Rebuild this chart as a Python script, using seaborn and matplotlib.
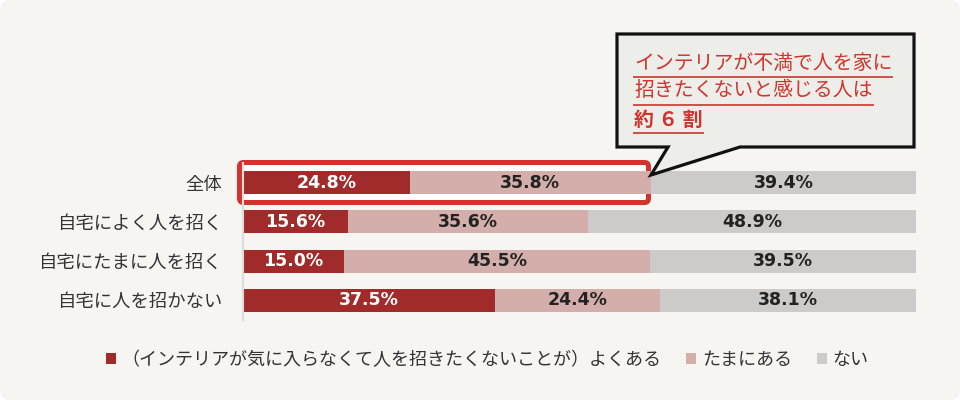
import numpy as np
import pandas as pd
import matplotlib
matplotlib.use("Agg")
import matplotlib.pyplot as plt
import seaborn as sns
from matplotlib.patches import FancyBboxPatch, Polygon

categories = ["全体", "自宅によく人を招く", "自宅にたまに人を招く", "自宅に人を招かない"]
often = [24.8, 15.6, 15.0, 37.5]
sometimes = [35.8, 35.6, 45.5, 24.4]
never = [39.4, 48.9, 39.5, 38.1]
series_names = ["（インテリアが気に入らなくて人を招きたくないことが）よくある", "たまにある", "ない"]
callout_lines = ["インテリアが不満で人を家に", "招きたくないと感じる人は", "約 ６ 割"]

c_often, c_some, c_never = "#a12b2a", "#d4aeaa", "#cccbca"
red = "#d0342c"
txt = "#333333"

sns.set_theme(style="white")
plt.rcParams['font.family'] = ['Noto Sans CJK JP', 'DejaVu Sans']

fig = plt.figure(figsize=(9.6, 4), dpi=100, facecolor="white")

# background layer (pixel coords)
bg = fig.add_axes([0, 0, 1, 1], zorder=0)
bg.set_xlim(0, 960); bg.set_ylim(400, 0); bg.axis('off')
bg.add_patch(FancyBboxPatch((0, 0), 960, 400, boxstyle="round,pad=0,rounding_size=10",
                            fc="#f6f5f1", ec="none"))
bg.add_patch(FancyBboxPatch((239.5, 162.5), 409, 40, boxstyle="round,pad=0,rounding_size=4",
                            fc="white", ec=red, lw=3.6))

# main chart
ax = fig.add_axes([243/960, 1-320/400, 673/960, 157/400], zorder=2)
ax.set_facecolor("none")
df = pd.DataFrame({"cat": categories, "often": often, "some": sometimes, "never": never})
df["c2"] = df["often"] + df["some"]
df["c3"] = df["c2"] + df["never"]

sns.barplot(data=df, x="c3", y="cat", color=c_never, saturation=1, width=0.59,
            orient="h", ax=ax, label=series_names[2], linewidth=0)
sns.barplot(data=df, x="c2", y="cat", color=c_some, saturation=1, width=0.59,
            orient="h", ax=ax, label=series_names[1], linewidth=0)
sns.barplot(data=df, x="often", y="cat", color=c_often, saturation=1, width=0.59,
            orient="h", ax=ax, label=series_names[0], linewidth=0)

ax.set_xlim(0, 100)
ax.set_ylim(3.5, -0.5)
ax.set_xlabel(""); ax.set_ylabel("")
ax.set_xticks([])
ax.tick_params(axis="y", length=0, pad=15, labelsize=13.2, labelcolor=txt)
for s in ["top", "right", "bottom"]:
    ax.spines[s].set_visible(False)
ax.spines["left"].set_color("#dcdcdc")
ax.spines["left"].set_linewidth(1.5)

for i in range(len(categories)):
    segs = [(0, often[i], "white"), (often[i], sometimes[i], "#222222"),
            (often[i] + sometimes[i], never[i], "#222222")]
    for left, v, col in segs:
        ax.text(min(left + v / 2, (left + 100) / 2), i, f"{v:.1f}%", ha="center", va="center",
                color=col, fontsize=12.5, fontweight="bold", family="DejaVu Sans")

h, l = ax.get_legend_handles_labels()
if ax.get_legend() is not None:
    ax.get_legend().remove()
order = [2, 1, 0]
leg = fig.legend([h[k] for k in order], [l[k] for k in order], loc="center",
                 bbox_to_anchor=(487/960, 1-360/400), ncol=3, frameon=False,
                 handlelength=0.55, handleheight=0.55, handletextpad=0.3,
                 columnspacing=1.4, fontsize=13.0)
for t in leg.get_texts():
    t.set_color(txt)

# callout layer
top = fig.add_axes([0, 0, 1, 1], zorder=3)
top.set_xlim(0, 960); top.set_ylim(400, 0); top.axis('off')
top.add_patch(Polygon([(617, 34), (914, 34), (914, 147), (740, 147), (651, 175), (668, 147), (617, 147)],
                      closed=True, fc="#ededea", ec="#111111", lw=2.3, joinstyle="miter"))
ys = [63, 91, 119]
uls = [77, 105, 133]
texts = []
for k, (s, y) in enumerate(zip(callout_lines, ys)):
    t = top.text(634, y, s, ha="left", va="center", color=red, fontsize=14.3,
                 fontweight="bold" if k == 2 else "normal")
    texts.append(t)
fig.canvas.draw()
r = fig.canvas.get_renderer()
for t, uy in zip(texts, uls):
    bb = t.get_window_extent(renderer=r)
    top.plot([633, bb.x1 + 1], [uy, uy], color=red, lw=1.2, solid_capstyle="butt")

fig.savefig("out.png", dpi=100, facecolor=fig.get_facecolor())
